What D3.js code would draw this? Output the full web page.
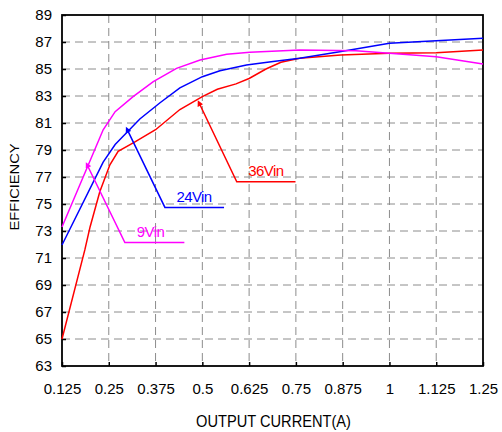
<!DOCTYPE html>
<html>
<head>
<meta charset="utf-8">
<script src="https://cdn.jsdelivr.net/npm/d3@7"></script>
<style>
  body { margin: 0; background: #fff; }
  text { font-family: "Liberation Sans", Arial, sans-serif; }
</style>
</head>
<body>
<div id="chart"></div>
<script>
// values
const xTicks = [0.125, 0.25, 0.375, 0.5, 0.625, 0.75, 0.875, 1, 1.125, 1.25];
const xTickLabels = ["0.125", "0.25", "0.375", "0.5", "0.625", "0.75", "0.875", "1", "1.125", "1.25"];
const yTicks = [63, 65, 67, 69, 71, 73, 75, 77, 79, 81, 83, 85, 87, 89];

const x36 = [0.125, 0.186, 0.2, 0.226, 0.253, 0.275, 0.32, 0.375, 0.44, 0.5, 0.54, 0.59, 0.625, 0.67, 0.71, 0.76, 0.87, 1.0, 1.125, 1.25];
const eff36 = [65.0, 71.6, 73.3, 75.9, 77.9, 78.9, 79.6, 80.5, 82.0, 82.95, 83.5, 83.9, 84.3, 85.0, 85.5, 85.8, 86.04, 86.16, 86.2, 86.4];

const x24 = [0.125, 0.235, 0.267, 0.302, 0.333, 0.387, 0.44, 0.5, 0.547, 0.618, 0.689, 0.76, 0.867, 1.0, 1.125, 1.25];
const eff24 = [71.96, 78.1, 79.4, 80.4, 81.3, 82.5, 83.6, 84.43, 84.87, 85.3, 85.55, 85.8, 86.28, 86.9, 87.1, 87.27];

const x9 = [0.125, 0.235, 0.267, 0.315, 0.369, 0.431, 0.494, 0.565, 0.627, 0.76, 0.91, 1.0, 1.125, 1.25];
const eff9 = [73.3, 80.5, 81.84, 82.95, 84.06, 85.05, 85.67, 86.1, 86.24, 86.4, 86.36, 86.16, 85.9, 85.37];

const seriesNames = ["36Vin", "24Vin", "9Vin"];
const seriesColors = ["#ff0000", "#0000ff", "#ff00ff"];

// callouts: tip, elbow, end (data units) and label position
const calloutX = [[0.494, 0.592, 0.749], [0.302, 0.400, 0.558], [0.195, 0.293, 0.452]];
const calloutY = [[82.33, 76.65, 76.65], [80.36, 74.75, 74.75], [77.74, 72.15, 72.15]];
const labelX = [0.623, 0.431, 0.325];
const labelY = [77.1, 75.17, 72.56];

const width = 502, height = 432;
const margin = {top: 15, right: 19, bottom: 66, left: 62};

const xScale = d3.scaleLinear()
  .domain([0.125, 1.25])
  .range([margin.left, width - margin.right]);

const yScale = d3.scaleLinear()
  .domain([63, 89])
  .range([height - margin.bottom, margin.top]);

const svg = d3.select("#chart")
  .append("svg")
  .attr("width", width)
  .attr("height", height);

svg.append("defs").append("marker")
  .attr("id", "arrow")
  .attr("viewBox", "0 0 10 10")
  .attr("refX", 1)
  .attr("refY", 5)
  .attr("markerWidth", 8)
  .attr("markerHeight", 6)
  .attr("markerUnits", "userSpaceOnUse")
  .attr("orient", "auto-start-reverse")
  .append("path")
  .attr("d", "M0,0L10,5L0,10z")
  .attr("fill", "context-stroke");

// grid
const grid = svg.append("g");
grid.selectAll(".vgrid")
  .data(xTicks.slice(1, -1))
  .join("line")
  .attr("class", "vgrid")
  .attr("x1", d => xScale(d)).attr("x2", d => xScale(d))
  .attr("y1", yScale(89)).attr("y2", yScale(63))
  .attr("stroke", "#8c8c8c")
  .attr("stroke-dasharray", "8,5");
grid.selectAll(".hgrid")
  .data(yTicks.slice(1, -1))
  .join("line")
  .attr("class", "hgrid")
  .attr("y1", d => yScale(d)).attr("y2", d => yScale(d))
  .attr("x1", xScale(0.125)).attr("x2", xScale(1.25))
  .attr("stroke", "#8c8c8c")
  .attr("stroke-dasharray", "8,5");

// axes
const xAxis = d3.axisBottom(xScale)
  .tickValues(xTicks)
  .tickFormat((d, i) => xTickLabels[i])
  .tickSizeInner(-4).tickSizeOuter(0).tickPadding(17);
const yAxis = d3.axisLeft(yScale)
  .tickValues(yTicks)
  .tickSizeInner(-4).tickSizeOuter(0).tickPadding(10);

const gx = svg.append("g")
  .attr("transform", `translate(0,${yScale(63)})`)
  .call(xAxis);
const gy = svg.append("g")
  .attr("transform", `translate(${xScale(0.125)},0)`)
  .call(yAxis);
[gx, gy].forEach(g => {
  g.select(".domain").remove();
  g.selectAll("line").attr("stroke", "#000").attr("stroke-width", 1.5);
  g.selectAll("text").attr("font-size", 15).attr("fill", "#000")
    .attr("font-family", "'Liberation Sans', Arial, sans-serif");
});

// frame
svg.append("rect")
  .attr("x", xScale(0.125)).attr("y", yScale(89))
  .attr("width", xScale(1.25) - xScale(0.125))
  .attr("height", yScale(63) - yScale(89))
  .attr("fill", "none")
  .attr("stroke", "#000")
  .attr("stroke-width", 1.8);

// curves
const line = d3.line()
  .x(d => xScale(d[0]))
  .y(d => yScale(d[1]));

const seriesData = [d3.zip(x36, eff36), d3.zip(x24, eff24), d3.zip(x9, eff9)];
svg.selectAll(".curve")
  .data(seriesData)
  .join("path")
  .attr("class", "curve")
  .attr("d", line)
  .attr("fill", "none")
  .attr("stroke", (d, i) => seriesColors[i])
  .attr("stroke-width", 1.5);

// callouts
const callouts = calloutX.map((xs, i) => d3.zip(xs, calloutY[i]));
svg.selectAll(".callout")
  .data(callouts)
  .join("path")
  .attr("class", "callout")
  .attr("d", line)
  .attr("fill", "none")
  .attr("stroke", (d, i) => seriesColors[i])
  .attr("stroke-width", 1.5)
  .attr("marker-start", "url(#arrow)");

svg.selectAll(".label")
  .data(seriesNames)
  .join("text")
  .attr("class", "label")
  .attr("x", (d, i) => xScale(labelX[i]))
  .attr("y", (d, i) => yScale(labelY[i]))
  .attr("font-size", 15)
  .attr("letter-spacing", -0.6)
  .attr("fill", (d, i) => seriesColors[i])
  .text(d => d);

// axis titles
svg.append("text")
  .attr("x", (xScale(0.125) + xScale(1.25)) / 2 + 1)
  .attr("y", 427)
  .attr("text-anchor", "middle")
  .attr("font-size", 16)
  .attr("textLength", 155)
  .attr("lengthAdjust", "spacingAndGlyphs")
  .text("OUTPUT CURRENT(A)");

svg.append("text")
  .attr("transform", "translate(19,187) rotate(-90)")
  .attr("text-anchor", "middle")
  .attr("font-size", 12)
  .attr("textLength", 87)
  .attr("lengthAdjust", "spacingAndGlyphs")
  .text("EFFICIENCY");
</script>
</body>
</html>
